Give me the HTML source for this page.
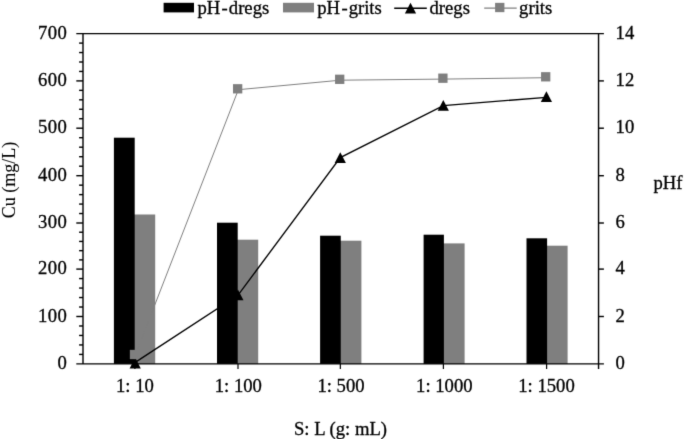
<!DOCTYPE html>
<html><head><meta charset="utf-8"><title>Chart</title>
<style>html,body{margin:0;padding:0;background:#fff;}svg{display:block;will-change:transform;}text{font-family:"Liberation Serif","Times New Roman",serif;font-size:18.67px;fill:#000;stroke:#000;stroke-width:0.3px;}</style>
</head><body>
<svg width="685" height="439" viewBox="0 0 685 439">
<defs><filter id="soft" x="0" y="0" width="685" height="439" filterUnits="userSpaceOnUse" color-interpolation-filters="sRGB"><feConvolveMatrix order="3" kernelMatrix="0.01134 0.08382 0.01134 0.08382 0.61935 0.08382 0.01134 0.08382 0.01134" edgeMode="duplicate" preserveAlpha="true"/></filter></defs>
<g filter="url(#soft)">
<rect x="0" y="0" width="685" height="439" fill="#fff"/>
<g shape-rendering="auto">
<rect x="133.20" y="214.50" width="22.00" height="149.40" fill="#7f7f7f"/>
<rect x="113.90" y="137.70" width="20.80" height="226.20" fill="#000"/>
<rect x="236.20" y="239.70" width="22.00" height="124.20" fill="#7f7f7f"/>
<rect x="217.00" y="222.70" width="20.70" height="141.20" fill="#000"/>
<rect x="339.25" y="240.70" width="22.15" height="123.20" fill="#7f7f7f"/>
<rect x="320.10" y="235.70" width="20.65" height="128.20" fill="#000"/>
<rect x="442.40" y="243.40" width="22.20" height="120.50" fill="#7f7f7f"/>
<rect x="423.60" y="234.70" width="20.30" height="129.20" fill="#000"/>
<rect x="545.60" y="245.70" width="22.00" height="118.20" fill="#7f7f7f"/>
<rect x="526.50" y="238.30" width="20.60" height="125.60" fill="#000"/>
</g>
<g stroke="#000" stroke-width="1.42" fill="none">
<line x1="83.00" y1="33.65" x2="83.00" y2="363.90"/>
<line x1="598.55" y1="33.65" x2="598.55" y2="369.10"/>
<line x1="76.30" y1="33.65" x2="603.90" y2="33.65"/>
<line x1="76.30" y1="363.90" x2="603.90" y2="363.90"/>
<line x1="76.30" y1="316.50" x2="83.00" y2="316.50"/>
<line x1="598.55" y1="316.50" x2="603.90" y2="316.50"/>
<line x1="76.30" y1="269.10" x2="83.00" y2="269.10"/>
<line x1="598.55" y1="269.10" x2="603.90" y2="269.10"/>
<line x1="76.30" y1="223.00" x2="83.00" y2="223.00"/>
<line x1="598.55" y1="223.00" x2="603.90" y2="223.00"/>
<line x1="76.30" y1="175.70" x2="83.00" y2="175.70"/>
<line x1="598.55" y1="175.70" x2="603.90" y2="175.70"/>
<line x1="76.30" y1="128.20" x2="83.00" y2="128.20"/>
<line x1="598.55" y1="128.20" x2="603.90" y2="128.20"/>
<line x1="76.30" y1="80.90" x2="83.00" y2="80.90"/>
<line x1="598.55" y1="80.90" x2="603.90" y2="80.90"/>
<line x1="79.10" y1="354.42" x2="83.00" y2="354.42"/>
<line x1="79.10" y1="344.94" x2="83.00" y2="344.94"/>
<line x1="79.10" y1="335.46" x2="83.00" y2="335.46"/>
<line x1="79.10" y1="325.98" x2="83.00" y2="325.98"/>
<line x1="79.10" y1="307.02" x2="83.00" y2="307.02"/>
<line x1="79.10" y1="297.54" x2="83.00" y2="297.54"/>
<line x1="79.10" y1="288.06" x2="83.00" y2="288.06"/>
<line x1="79.10" y1="278.58" x2="83.00" y2="278.58"/>
<line x1="79.10" y1="259.88" x2="83.00" y2="259.88"/>
<line x1="79.10" y1="250.66" x2="83.00" y2="250.66"/>
<line x1="79.10" y1="241.44" x2="83.00" y2="241.44"/>
<line x1="79.10" y1="232.22" x2="83.00" y2="232.22"/>
<line x1="79.10" y1="213.54" x2="83.00" y2="213.54"/>
<line x1="79.10" y1="204.08" x2="83.00" y2="204.08"/>
<line x1="79.10" y1="194.62" x2="83.00" y2="194.62"/>
<line x1="79.10" y1="185.16" x2="83.00" y2="185.16"/>
<line x1="79.10" y1="166.20" x2="83.00" y2="166.20"/>
<line x1="79.10" y1="156.70" x2="83.00" y2="156.70"/>
<line x1="79.10" y1="147.20" x2="83.00" y2="147.20"/>
<line x1="79.10" y1="137.70" x2="83.00" y2="137.70"/>
<line x1="79.10" y1="118.74" x2="83.00" y2="118.74"/>
<line x1="79.10" y1="109.28" x2="83.00" y2="109.28"/>
<line x1="79.10" y1="99.82" x2="83.00" y2="99.82"/>
<line x1="79.10" y1="90.36" x2="83.00" y2="90.36"/>
<line x1="79.10" y1="71.45" x2="83.00" y2="71.45"/>
<line x1="79.10" y1="62.00" x2="83.00" y2="62.00"/>
<line x1="79.10" y1="52.55" x2="83.00" y2="52.55"/>
<line x1="79.10" y1="43.10" x2="83.00" y2="43.10"/>
<line x1="134.90" y1="363.90" x2="134.90" y2="369.10" stroke-width="1.2"/>
<line x1="238.00" y1="363.90" x2="238.00" y2="369.10" stroke-width="1.2"/>
<line x1="340.35" y1="363.90" x2="340.35" y2="369.10" stroke-width="1.2"/>
<line x1="443.40" y1="363.90" x2="443.40" y2="369.10" stroke-width="1.2"/>
<line x1="546.60" y1="363.90" x2="546.60" y2="369.10" stroke-width="1.2"/>
</g>
<polyline fill="none" stroke="#000" stroke-width="1.35" points="135.20,362.40 237.90,295.30 340.30,157.60 443.30,105.60 546.40,97.30"/>
<polygon fill="#000" points="135.20,357.60 140.80,368.40 129.60,368.40"/>
<polygon fill="#000" points="237.90,289.50 243.50,300.30 232.30,300.30"/>
<polygon fill="#000" points="340.30,152.20 345.90,163.00 334.70,163.00"/>
<polygon fill="#000" points="443.30,99.90 448.90,110.70 437.70,110.70"/>
<polygon fill="#000" points="546.40,91.30 552.00,102.10 540.80,102.10"/>
<polyline fill="none" stroke="#7f7f7f" stroke-width="1.0" points="135.20,355.40 238.35,89.70 340.40,80.20 443.60,79.10 546.40,77.70"/>
<rect x="129.85" y="349.85" width="9.30" height="9.30" fill="#7f7f7f"/>
<rect x="233.00" y="84.15" width="9.30" height="9.30" fill="#7f7f7f"/>
<rect x="335.05" y="74.65" width="9.30" height="9.30" fill="#7f7f7f"/>
<rect x="438.25" y="73.55" width="9.30" height="9.30" fill="#7f7f7f"/>
<rect x="541.05" y="72.15" width="9.30" height="9.30" fill="#7f7f7f"/>
<text x="67.45" y="369.15" text-anchor="end" letter-spacing="0.5">0</text>
<text x="67.45" y="321.75" text-anchor="end" letter-spacing="0.5">100</text>
<text x="67.45" y="274.35" text-anchor="end" letter-spacing="0.5">200</text>
<text x="67.45" y="228.25" text-anchor="end" letter-spacing="0.5">300</text>
<text x="67.45" y="180.95" text-anchor="end" letter-spacing="0.5">400</text>
<text x="67.45" y="133.45" text-anchor="end" letter-spacing="0.5">500</text>
<text x="67.45" y="86.15" text-anchor="end" letter-spacing="0.5">600</text>
<text x="67.45" y="38.90" text-anchor="end" letter-spacing="0.5">700</text>
<text x="615.6" y="369.15">0</text>
<text x="615.6" y="321.75">2</text>
<text x="615.6" y="274.35">4</text>
<text x="615.6" y="228.25">6</text>
<text x="615.6" y="180.95">8</text>
<text x="615.6" y="133.45">10</text>
<text x="615.6" y="86.15">12</text>
<text x="615.6" y="38.90">14</text>
<text x="134.90" y="392.2" text-anchor="middle">1: 10</text>
<text x="238.30" y="392.2" text-anchor="middle">1: 100</text>
<text x="341.00" y="392.2" text-anchor="middle">1: 500</text>
<text x="444.30" y="392.2" text-anchor="middle">1: 1000</text>
<text x="546.50" y="392.2" text-anchor="middle">1: 1500</text>
<text x="340.5" y="434.6" text-anchor="middle">S: L (g: mL)</text>
<text x="653.4" y="188.5">pHf</text>
<text transform="translate(15.1,179.9) rotate(-90)" text-anchor="middle" style="font-size:18px;stroke-width:0.1px">Cu (mg/L)</text>
<rect x="163.6" y="2.8" width="30.4" height="9.6" fill="#000"/>
<text x="197.4" y="14">pH<tspan dx="1.4">-</tspan><tspan dx="1.0">dregs</tspan></text>
<rect x="283" y="2.8" width="31" height="9.6" fill="#7f7f7f"/>
<text x="317.2" y="14">pH<tspan dx="1.4">-</tspan><tspan dx="1.0">grits</tspan></text>
<line x1="394.2" y1="8.15" x2="426.8" y2="8.15" stroke="#000" stroke-width="1.5"/>
<polygon fill="#000" points="410.50,2.75 416.10,13.55 404.90,13.55"/>
<text x="429.5" y="14">dregs</text>
<line x1="484.2" y1="8.2" x2="516.7" y2="8.2" stroke="#7f7f7f" stroke-width="1.3"/>
<rect x="495.10" y="2.85" width="9.30" height="9.30" fill="#7f7f7f"/>
<text x="519.1" y="14">grits</text>
</g>
</svg>
</body></html>
